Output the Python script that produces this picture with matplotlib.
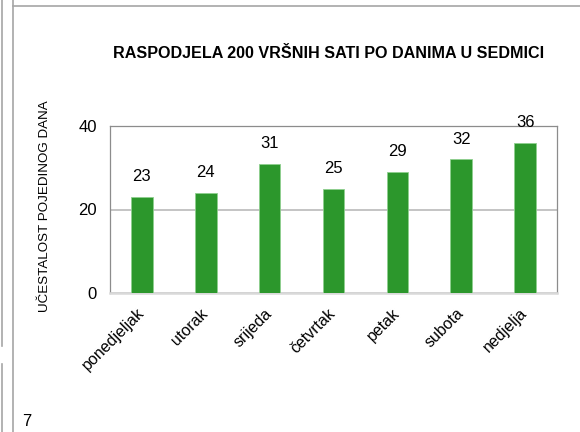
import matplotlib.pyplot as plt
from matplotlib.lines import Line2D
from matplotlib.transforms import ScaledTranslation

plt.rcParams['font.family'] = ['Liberation Sans', 'DejaVu Sans']

# Number of peak hours falling on each day of the week
days = ['ponedjeljak', 'utorak', 'srijeda', 'četvrtak', 'petak', 'subota', 'nedjelja']
counts = [23, 24, 31, 25, 29, 32, 36]
y_ticks = [0, 20, 40]

W, H = 580, 432
fig = plt.figure(figsize=(W / 100, H / 100), dpi=100)


def px(x0, y0, x1, y1):
    """pixel box (top-left origin) -> figure fraction rect"""
    return [x0 / W, 1 - y1 / H, (x1 - x0) / W, (y1 - y0) / H]


# slide frame lines
for xs, ys in [([13, 13], [0, 432]), ([13, 580], [6, 6]),
               ([2, 2], [0, 346]), ([2, 2], [364, 432])]:
    fig.add_artist(Line2D([x / W for x in xs], [1 - y / H for y in ys],
                          color='#a6a6a6', lw=1.2))
fig.text(22 / W, 1 - 421 / H, '7', fontsize=12, ha='left', va='center')

ax = fig.add_axes(px(110, 126, 557, 293))
x = range(len(days))
ax.bar(x, counts, width=0.34, color='#2c972c', edgecolor='#8fcf8f',
       linewidth=0.6, zorder=3)
for i, v in enumerate(counts):
    ax.text(i, v + 3.0, str(v), ha='center', va='bottom', fontsize=12,
            clip_on=False, zorder=4)

ax.set_xlim(-0.5, len(days) - 0.5)
ax.set_ylim(0, 40)
ax.set_yticks(y_ticks)
ax.tick_params(axis='y', length=0, labelsize=12, pad=9.5)
ax.set_xticks(list(x))
ax.set_xticklabels(days, rotation=45, ha='right', rotation_mode='anchor',
                   fontsize=11.5)
ax.tick_params(axis='x', length=0, pad=9)
shift = ScaledTranslation(-4 / 72, 0, fig.dpi_scale_trans)
for lbl in ax.get_xticklabels():
    lbl.set_transform(lbl.get_transform() + shift)
ax.grid(axis='y', color='#bfbfbf', linewidth=1.3, zorder=0)

for side in ['left', 'top', 'right']:
    ax.spines[side].set_color('#8c8c8c')
    ax.spines[side].set_linewidth(0.9)
ax.spines['bottom'].set_color('#d9d9d9')
ax.spines['bottom'].set_linewidth(1.8)

fig.text(329 / W, 1 - 54 / H, 'RASPODJELA 200 VRŠNIH SATI PO DANIMA U SEDMICI',
         ha='center', va='center', fontsize=11.6, fontweight='bold')
fig.text(45 / W, 1 - 206 / H, 'UČESTALOST POJEDINOG DANA', rotation=90,
         ha='center', va='center', fontsize=9.6)

fig.savefig('out.png', dpi=100)
